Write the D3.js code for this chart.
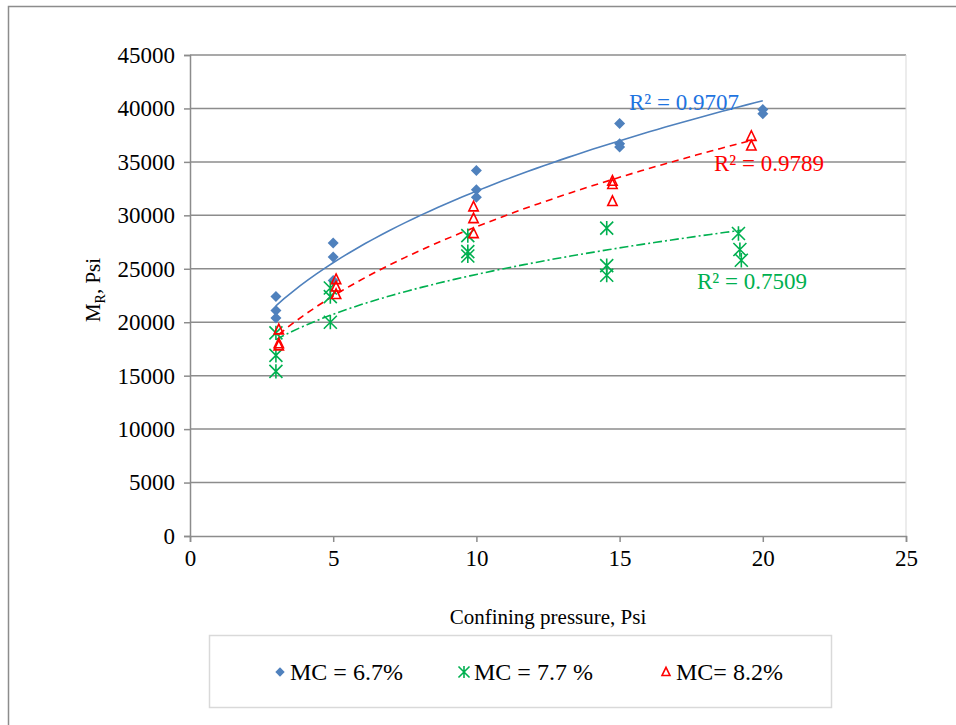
<!DOCTYPE html>
<html>
<head>
<meta charset="utf-8">
<script src="https://cdn.jsdelivr.net/npm/d3@7"></script>
<style>
  body { margin: 0; background: #fff; }
  svg text { font-family: "Liberation Serif", "Times New Roman", serif; }
</style>
</head>
<body>
<svg id="chart"></svg>
<script>
// Series values (x = confining pressure, y = MR)
var blueX = [3, 3, 3, 5, 5, 5, 10, 10, 10, 15, 15, 15, 20, 20];
var blueY = [22400, 21100, 20400, 27400, 26100, 23900, 34200, 32400, 31700, 38600, 36700, 36400, 39900, 39500];

var greenX = [3, 3, 3, 4.9, 4.9, 4.9, 9.7, 9.7, 9.7, 14.55, 14.55, 14.55, 19.15, 19.2, 19.25];
var greenY = [19000, 16900, 15400, 23200, 22400, 20000, 28100, 26600, 26200, 28800, 25300, 24400, 28300, 26800, 25800];

var redX = [3.1, 3.1, 3.1, 5.1, 5.1, 5.1, 9.9, 9.9, 9.9, 14.75, 14.75, 14.75, 19.6, 19.6];
var redY = [19300, 18000, 17800, 24000, 23300, 22600, 30800, 29700, 28300, 33200, 32900, 31300, 37400, 36500];

var seriesNames = ["MC = 6.7%", "MC = 7.7 %", "MC= 8.2%"];
var r2Labels = ["R² = 0.9707", "R² = 0.7509", "R² = 0.9789"];

var xTicks = [0, 5, 10, 15, 20, 25];
var yTicks = [0, 5000, 10000, 15000, 20000, 25000, 30000, 35000, 40000, 45000];

var dimensions = {
    width: 956,
    height: 725,
    margin: { top: 55, bottom: 189, left: 190, right: 50 }
};

var serif = "'Liberation Serif', 'Times New Roman', serif";

var svg = d3.select("#chart")
    .attr("width", dimensions.width)
    .attr("height", dimensions.height)
    .attr("font-family", serif);

// outer chart frame (only left/top edges fall inside the picture)
svg.append("rect")
    .attr("x", 8.5).attr("y", 6.5)
    .attr("width", 980).attr("height", 760)
    .attr("fill", "none").attr("stroke", "#8c8c8c").attr("stroke-width", 1.5);

var xScale = d3.scaleLinear()
    .domain([0, 25])
    .range([dimensions.margin.left, dimensions.width - dimensions.margin.right]);

var yScale = d3.scaleLinear()
    .domain([0, 45000])
    .range([dimensions.height - dimensions.margin.bottom, dimensions.margin.top]);

// horizontal gridlines
svg.append("g").selectAll("line")
    .data(yTicks.slice(1))
    .enter().append("line")
    .attr("x1", xScale(0)).attr("x2", xScale(25))
    .attr("y1", function(d) { return yScale(d); })
    .attr("y2", function(d) { return yScale(d); })
    .attr("stroke", "#8c8c8c").attr("stroke-width", 1.5);

// right edge of the plot area
svg.append("line")
    .attr("x1", xScale(25)).attr("x2", xScale(25))
    .attr("y1", yScale(45000)).attr("y2", yScale(0))
    .attr("stroke", "#d9d9d9").attr("stroke-width", 1);

// axes
var xAxis = svg.append("g")
    .attr("transform", "translate(0," + yScale(0) + ")")
    .call(d3.axisBottom(xScale).tickValues(xTicks).tickSize(6).tickPadding(8).tickFormat(d3.format("d")));
var yAxis = svg.append("g")
    .attr("transform", "translate(" + xScale(0) + ",0)")
    .call(d3.axisLeft(yScale).tickValues(yTicks).tickSize(6).tickPadding(9).tickFormat(d3.format("d")));

[xAxis, yAxis].forEach(function(ax) {
    ax.attr("font-family", serif).attr("font-size", 23);
    ax.select(".domain").attr("stroke", "#8c8c8c").attr("stroke-width", 1.5);
    ax.selectAll(".tick line").attr("stroke", "#8c8c8c").attr("stroke-width", 1.5);
    ax.selectAll(".tick text").attr("fill", "#000");
});

// axis titles
svg.append("text")
    .attr("x", 548).attr("y", 624)
    .style("text-anchor", "middle")
    .style("font-size", "21px")
    .text("Confining pressure, Psi");

var yTitle = svg.append("text")
    .attr("transform", "translate(100,290) rotate(-90)")
    .style("text-anchor", "middle")
    .style("font-size", "21px");
yTitle.append("tspan").text("M");
yTitle.append("tspan").attr("dy", 5).style("font-size", "14px").text("R");
yTitle.append("tspan").attr("dy", -5).text(", Psi");

// marker shapes
function diamondPath(s) {
    return "M0," + (-s) + "L" + s + ",0L0," + s + "L" + (-s) + ",0Z";
}
function starPath(s) {
    return "M" + (-s) + "," + (-s) + "L" + s + "," + s +
        "M" + (-s) + "," + s + "L" + s + "," + (-s) +
        "M0," + (-s * 1.1) + "L0," + (s * 1.1);
}
function trianglePath(s) {
    return "M0," + (-s) + "L" + (s * 0.85) + "," + (s * 0.75) + "L" + (-s * 0.85) + "," + (s * 0.75) + "Z";
}

var series = [
    { name: seriesNames[0], xs: blueX, ys: blueY, color: "#4f81bd", dash: null, r2: r2Labels[0], r2Color: "#1f74e0", r2x: 629, r2y: 110 },
    { name: seriesNames[1], xs: greenX, ys: greenY, color: "#00b050", dash: "9,3,2,3", r2: r2Labels[1], r2Color: "#00b050", r2x: 697, r2y: 289 },
    { name: seriesNames[2], xs: redX, ys: redY, color: "#ff0000", dash: "7,5", r2: r2Labels[2], r2Color: "#ff0000", r2x: 714, r2y: 171 }
];

// power trendline y = a*x^b (least squares in log space, like Excel)
function powerFit(xs, ys) {
    var lx = xs.map(Math.log), ly = ys.map(Math.log);
    var mx = d3.mean(lx), my = d3.mean(ly);
    var b = d3.sum(lx, function(v, i) { return (v - mx) * (ly[i] - my); }) /
            d3.sum(lx, function(v) { return (v - mx) * (v - mx); });
    var a = Math.exp(my - b * mx);
    return function(x) { return a * Math.pow(x, b); };
}

var line = d3.line()
    .x(function(d) { return xScale(d[0]); })
    .y(function(d) { return yScale(d[1]); });

series.forEach(function(s) {
    var f = powerFit(s.xs, s.ys);
    var lo = d3.min(s.xs), hi = d3.max(s.xs);
    var pts = d3.range(0, 61).map(function(i) {
        var x = lo + (hi - lo) * i / 60;
        return [x, f(x)];
    });
    svg.append("path")
        .datum(pts)
        .attr("d", line)
        .attr("fill", "none")
        .attr("stroke", s.color)
        .attr("stroke-width", 1.6)
        .attr("stroke-dasharray", s.dash);
});

// points
function drawMarker(g, idx, color, k) {
    k = k || 1;
    if (idx === 0) {
        g.append("path").attr("d", diamondPath(5.5 * k)).attr("fill", color);
    } else if (idx === 1) {
        g.append("path").attr("d", starPath(6.5 * k)).attr("fill", "none").attr("stroke", color).attr("stroke-width", 1.6);
    } else {
        g.append("path").attr("d", trianglePath(5.5 * k)).attr("fill", "none").attr("stroke", color).attr("stroke-width", 1.6);
    }
}

series.forEach(function(s, idx) {
    s.xs.forEach(function(x, i) {
        var g = svg.append("g").attr("transform", "translate(" + xScale(x) + "," + yScale(s.ys[i]) + ")");
        drawMarker(g, idx, s.color);
    });
});

// R² labels
series.forEach(function(s) {
    svg.append("text")
        .attr("x", s.r2x).attr("y", s.r2y)
        .attr("fill", s.r2Color)
        .style("font-size", "23px")
        .text(s.r2);
});

// legend
svg.append("rect")
    .attr("x", 209.5).attr("y", 635.5)
    .attr("width", 622).attr("height", 72)
    .attr("fill", "#fff").attr("stroke", "#d9d9d9").attr("stroke-width", 1.5);

var legendX = [280, 464, 666];
series.forEach(function(s, idx) {
    var g = svg.append("g").attr("transform", "translate(" + legendX[idx] + ",672)");
    drawMarker(g, idx, s.color, 0.85);
    svg.append("text")
        .attr("x", legendX[idx] + 10).attr("y", 680)
        .style("font-size", "24px")
        .text(s.name);
});
</script>
</body>
</html>
